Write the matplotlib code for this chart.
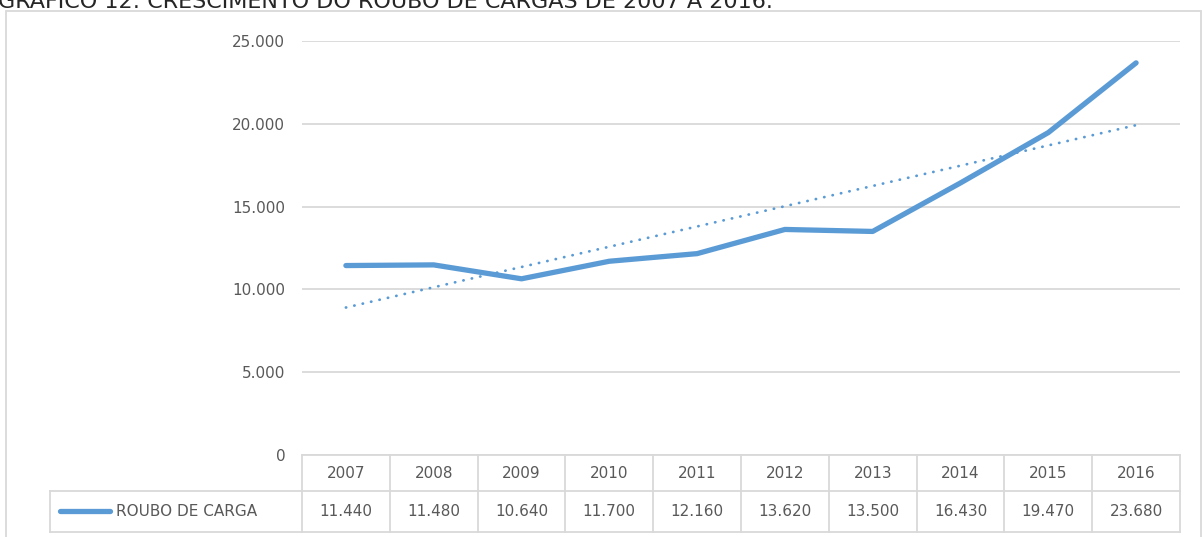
import matplotlib
matplotlib.use("Agg")
import matplotlib.pyplot as plt
from matplotlib.patches import Rectangle
import numpy as np

# roubo de cargas, 2007-2016
anos = ["2007", "2008", "2009", "2010", "2011", "2012", "2013", "2014", "2015", "2016"]
roubos = [11440, 11480, 10640, 11700, 12160, 13620, 13500, 16430, 19470, 23680]
serie = "ROUBO DE CARGA"
yticks = [0, 5000, 10000, 15000, 20000, 25000]

azul = "#5b9bd5"
cinza = "#d9d9d9"
texto = "#595959"

W, H = 1202, 537
fig = plt.figure(figsize=(W / 100, H / 100), dpi=100)

def fx(px):
    return px / W

def fy(py):
    return 1 - py / H

# chart border
fig.patches.append(Rectangle((fx(6), fy(560)), fx(1201) - fx(6), fy(11) - fy(560),
                             transform=fig.transFigure, fill=False, edgecolor=cinza, lw=1.3))

fig.text(fx(-2), fy(8), "GRÁFICO 12: CRESCIMENTO DO ROUBO DE CARGAS DE 2007 A 2016.",
         ha="left", va="baseline", fontsize=16, color="#262626")

ax = fig.add_axes([fx(302), fy(455), fx(1180) - fx(302), fy(41) - fy(455)])
x = np.arange(len(anos))

ax.plot(x, roubos, color=azul, lw=3.8, solid_capstyle="round", solid_joinstyle="round", zorder=3)
coef = np.polyfit(x, roubos, 1)
ax.plot(x, np.polyval(coef, x), color=azul, lw=2.0, linestyle=(0, (0.1, 3.0)),
        dash_capstyle="round", zorder=3)

ax.set_xlim(-0.5, len(anos) - 0.5)
ax.set_ylim(0, 25000)
ax.set_yticks(yticks)
ax.set_yticklabels([f"{v:,}".replace(",", ".") for v in yticks], fontsize=11, color=texto)
ax.tick_params(axis="y", length=0, pad=12)
ax.set_xticks([])
ax.grid(axis="y", color=cinza, lw=1.3)
ax.set_axisbelow(True)
for s in ax.spines.values():
    s.set_visible(False)

# data table under the plot
tr = ax.get_xaxis_transform()
h_ax = fy(41) - fy(455)
def ay(py):
    return (fy(py) - fy(455)) / h_ax

y_top, y_mid, y_bot = ay(455), ay(491), ay(532)
for yy in (y_top, y_mid, y_bot):
    ax.plot([-0.5, len(anos) - 0.5], [yy, yy], transform=tr, color=cinza, lw=1.3, clip_on=False)
for k in range(len(anos) + 1):
    ax.plot([k - 0.5, k - 0.5], [y_top, y_bot], transform=tr, color=cinza, lw=1.3, clip_on=False)

# legend cell
fig.add_artist(plt.Line2D([fx(50), fx(302)], [fy(491), fy(491)], color=cinza, lw=1.3))
fig.add_artist(plt.Line2D([fx(50), fx(302)], [fy(532), fy(532)], color=cinza, lw=1.3))
fig.add_artist(plt.Line2D([fx(50), fx(50)], [fy(491), fy(532)], color=cinza, lw=1.3))
fig.add_artist(plt.Line2D([fx(60), fx(110)], [fy(511), fy(511)], color=azul, lw=3.8,
                          solid_capstyle="round"))
fig.text(fx(116), fy(511), serie, ha="left", va="center", fontsize=11, color=texto)

for i in range(len(anos)):
    ax.text(i, ay(473), anos[i], transform=tr, ha="center", va="center",
            fontsize=11, color=texto, clip_on=False)
    ax.text(i, ay(511), f"{roubos[i]:,}".replace(",", "."), transform=tr, ha="center",
            va="center", fontsize=11, color=texto, clip_on=False)

fig.savefig("out.png", dpi=100)
